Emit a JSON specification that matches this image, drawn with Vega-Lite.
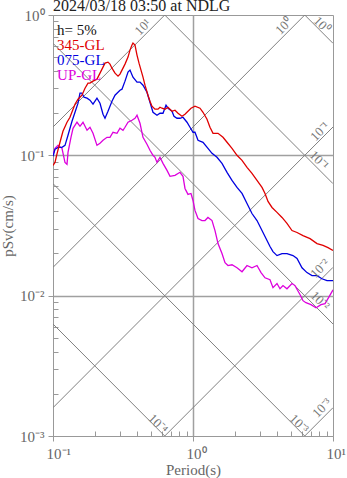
{
  "$schema": "https://vega.github.io/schema/vega-lite/v6.json",
  "width": 280,
  "height": 421,
  "autosize": {"type": "none"},
  "padding": {"left": 53, "top": 15, "right": 14, "bottom": 42},
  "background": "white",
  "title": {"text": "2024/03/18 03:50 at NDLG", "anchor": "start", "frame": "group", "baseline": "alphabetic", "font": "Liberation Serif", "fontSize": 16, "fontWeight": "normal", "color": "#222222", "offset": -19},
  "config": {
    "view": {"stroke": "#999999", "strokeWidth": 1},
    "axis": {"labelFont": "Liberation Serif", "titleFont": "Liberation Serif", "labelFontSize": 15, "titleFontSize": 15, "titleFontWeight": "normal", "labelColor": "#666666", "titleColor": "#666666", "domainColor": "#999999", "tickColor": "#999999", "gridColor": "#a0a0a0", "gridWidth": 1.5}
  },
  "datasets": {
    "diag": [
      {"id": "a1", "T": 0.1, "Sv": 0.15915}, {"id": "a1", "T": 0.62832, "Sv": 1},
      {"id": "a0", "T": 0.1, "Sv": 0.015915}, {"id": "a0", "T": 6.2832, "Sv": 1},
      {"id": "a-1", "T": 0.1, "Sv": 0.0015915}, {"id": "a-1", "T": 10, "Sv": 0.15915},
      {"id": "a-2", "T": 0.62832, "Sv": 0.001}, {"id": "a-2", "T": 10, "Sv": 0.015915},
      {"id": "a-3", "T": 6.2832, "Sv": 0.001}, {"id": "a-3", "T": 10, "Sv": 0.0015915},
      {"id": "d0", "T": 6.2832, "Sv": 1}, {"id": "d0", "T": 10, "Sv": 0.62832},
      {"id": "d-1", "T": 0.62832, "Sv": 1}, {"id": "d-1", "T": 10, "Sv": 0.062832},
      {"id": "d-2", "T": 0.1, "Sv": 0.62832}, {"id": "d-2", "T": 10, "Sv": 0.0062832},
      {"id": "d-3", "T": 0.1, "Sv": 0.062832}, {"id": "d-3", "T": 6.2832, "Sv": 0.001},
      {"id": "d-4", "T": 0.1, "Sv": 0.0062832}, {"id": "d-4", "T": 0.62832, "Sv": 0.001}
    ],
    "uplabels": [
      {"text": "10¹", "T": 0.439, "Sv": 0.82},
      {"text": "10⁰", "T": 4.47, "Sv": 0.834},
      {"text": "10⁻¹", "T": 8.07, "Sv": 0.148},
      {"text": "10⁻²", "T": 8.07, "Sv": 0.0156},
      {"text": "10⁻³", "T": 8.34, "Sv": 0.00158}
    ],
    "downlabels": [
      {"text": "10⁰", "T": 8.34, "Sv": 0.849},
      {"text": "10⁻¹", "T": 7.94, "Sv": 0.0921},
      {"text": "10⁻²", "T": 8.07, "Sv": 0.0092},
      {"text": "10⁻³", "T": 5.72, "Sv": 0.00122},
      {"text": "10⁻⁴", "T": 0.562, "Sv": 0.00122}
    ],
    "legend": [
      {"s": "h= 5%", "T": 0.107, "Sv": 0.72},
      {"s": "345-GL", "T": 0.107, "Sv": 0.562},
      {"s": "075-GL", "T": 0.107, "Sv": 0.439},
      {"s": "UP-GL", "T": 0.107, "Sv": 0.347}
    ],
    "curves": [
      {"s": "UP-GL", "T": 0.1, "Sv": 0.1}, {"s": "UP-GL", "T": 0.1033, "Sv": 0.1122}, {"s": "UP-GL", "T": 0.1086, "Sv": 0.1178}, {"s": "UP-GL", "T": 0.1159, "Sv": 0.1122}, {"s": "UP-GL", "T": 0.1218, "Sv": 0.0891}, {"s": "UP-GL", "T": 0.1259, "Sv": 0.0863}, {"s": "UP-GL", "T": 0.128, "Sv": 0.105}, {"s": "UP-GL", "T": 0.1344, "Sv": 0.1344}, {"s": "UP-GL", "T": 0.139, "Sv": 0.1559}, {"s": "UP-GL", "T": 0.1484, "Sv": 0.1721}, {"s": "UP-GL", "T": 0.1559, "Sv": 0.1611}, {"s": "UP-GL", "T": 0.1638, "Sv": 0.1721}, {"s": "UP-GL", "T": 0.175, "Sv": 0.1509}, {"s": "UP-GL", "T": 0.1837, "Sv": 0.1585}, {"s": "UP-GL", "T": 0.1931, "Sv": 0.1436}, {"s": "UP-GL", "T": 0.2061, "Sv": 0.1178}, {"s": "UP-GL", "T": 0.2166, "Sv": 0.1218}, {"s": "UP-GL", "T": 0.2276, "Sv": 0.128}, {"s": "UP-GL", "T": 0.2431, "Sv": 0.1344}, {"s": "UP-GL", "T": 0.2553, "Sv": 0.1344}, {"s": "UP-GL", "T": 0.2683, "Sv": 0.146}, {"s": "UP-GL", "T": 0.2865, "Sv": 0.1436}, {"s": "UP-GL", "T": 0.301, "Sv": 0.1559}, {"s": "UP-GL", "T": 0.3162, "Sv": 0.1509}, {"s": "UP-GL", "T": 0.3268, "Sv": 0.1585}, {"s": "UP-GL", "T": 0.3434, "Sv": 0.1721}, {"s": "UP-GL", "T": 0.3666, "Sv": 0.1778}, {"s": "UP-GL", "T": 0.3852, "Sv": 0.1837}, {"s": "UP-GL", "T": 0.3981, "Sv": 0.1931}, {"s": "UP-GL", "T": 0.4182, "Sv": 0.1693}, {"s": "UP-GL", "T": 0.4394, "Sv": 0.1344}, {"s": "UP-GL", "T": 0.4691, "Sv": 0.1199}, {"s": "UP-GL", "T": 0.4928, "Sv": 0.1086}, {"s": "UP-GL", "T": 0.5179, "Sv": 0.1}, {"s": "UP-GL", "T": 0.5352, "Sv": 0.0968}, {"s": "UP-GL", "T": 0.5531, "Sv": 0.0891}, {"s": "UP-GL", "T": 0.581, "Sv": 0.0968}, {"s": "UP-GL", "T": 0.6105, "Sv": 0.0877}, {"s": "UP-GL", "T": 0.6522, "Sv": 0.0781}, {"s": "UP-GL", "T": 0.6852, "Sv": 0.0708}, {"s": "UP-GL", "T": 0.7437, "Sv": 0.072}, {"s": "UP-GL", "T": 0.8072, "Sv": 0.0757}, {"s": "UP-GL", "T": 0.8482, "Sv": 0.0708}, {"s": "UP-GL", "T": 0.8766, "Sv": 0.0581}, {"s": "UP-GL", "T": 0.9209, "Sv": 0.0527}, {"s": "UP-GL", "T": 0.9676, "Sv": 0.0535}, {"s": "UP-GL", "T": 1.0, "Sv": 0.0477}, {"s": "UP-GL", "T": 1.033, "Sv": 0.0405}, {"s": "UP-GL", "T": 1.086, "Sv": 0.0355}, {"s": "UP-GL", "T": 1.159, "Sv": 0.0343}, {"s": "UP-GL", "T": 1.218, "Sv": 0.0343}, {"s": "UP-GL", "T": 1.279, "Sv": 0.0361}, {"s": "UP-GL", "T": 1.367, "Sv": 0.0343}, {"s": "UP-GL", "T": 1.436, "Sv": 0.0291}, {"s": "UP-GL", "T": 1.509, "Sv": 0.0235}, {"s": "UP-GL", "T": 1.611, "Sv": 0.01995}, {"s": "UP-GL", "T": 1.693, "Sv": 0.0172}, {"s": "UP-GL", "T": 1.778, "Sv": 0.0164}, {"s": "UP-GL", "T": 1.899, "Sv": 0.0166}, {"s": "UP-GL", "T": 2.062, "Sv": 0.0158}, {"s": "UP-GL", "T": 2.239, "Sv": 0.0148}, {"s": "UP-GL", "T": 2.431, "Sv": 0.0164}, {"s": "UP-GL", "T": 2.638, "Sv": 0.0158}, {"s": "UP-GL", "T": 2.865, "Sv": 0.0164}, {"s": "UP-GL", "T": 3.062, "Sv": 0.0146}, {"s": "UP-GL", "T": 3.268, "Sv": 0.0134}, {"s": "UP-GL", "T": 3.548, "Sv": 0.013}, {"s": "UP-GL", "T": 3.727, "Sv": 0.0114}, {"s": "UP-GL", "T": 3.981, "Sv": 0.0122}, {"s": "UP-GL", "T": 4.181, "Sv": 0.0112}, {"s": "UP-GL", "T": 4.394, "Sv": 0.0118}, {"s": "UP-GL", "T": 4.69, "Sv": 0.0112}, {"s": "UP-GL", "T": 5.094, "Sv": 0.0122}, {"s": "UP-GL", "T": 5.354, "Sv": 0.0118}, {"s": "UP-GL", "T": 5.809, "Sv": 0.0102}, {"s": "UP-GL", "T": 6.105, "Sv": 0.00921}, {"s": "UP-GL", "T": 6.41, "Sv": 0.00891}, {"s": "UP-GL", "T": 6.96, "Sv": 0.00863}, {"s": "UP-GL", "T": 7.568, "Sv": 0.00821}, {"s": "UP-GL", "T": 8.21, "Sv": 0.00863}, {"s": "UP-GL", "T": 8.77, "Sv": 0.00877}, {"s": "UP-GL", "T": 9.21, "Sv": 0.00952}, {"s": "UP-GL", "T": 10, "Sv": 0.011},

      {"s": "075-GL", "T": 0.1, "Sv": 0.0984}, {"s": "075-GL", "T": 0.1033, "Sv": 0.1104}, {"s": "075-GL", "T": 0.1086, "Sv": 0.114}, {"s": "075-GL", "T": 0.1159, "Sv": 0.114}, {"s": "075-GL", "T": 0.1218, "Sv": 0.1178}, {"s": "075-GL", "T": 0.128, "Sv": 0.139}, {"s": "075-GL", "T": 0.1367, "Sv": 0.1749}, {"s": "075-GL", "T": 0.1436, "Sv": 0.2028}, {"s": "075-GL", "T": 0.1509, "Sv": 0.2352}, {"s": "075-GL", "T": 0.1559, "Sv": 0.2773}, {"s": "075-GL", "T": 0.161, "Sv": 0.2773}, {"s": "075-GL", "T": 0.1665, "Sv": 0.2596}, {"s": "075-GL", "T": 0.175, "Sv": 0.2553}, {"s": "075-GL", "T": 0.1837, "Sv": 0.2471}, {"s": "075-GL", "T": 0.1931, "Sv": 0.2313}, {"s": "075-GL", "T": 0.2061, "Sv": 0.2553}, {"s": "075-GL", "T": 0.2166, "Sv": 0.2352}, {"s": "075-GL", "T": 0.2276, "Sv": 0.1963}, {"s": "075-GL", "T": 0.2352, "Sv": 0.1837}, {"s": "075-GL", "T": 0.2471, "Sv": 0.2061}, {"s": "075-GL", "T": 0.2638, "Sv": 0.2431}, {"s": "075-GL", "T": 0.2773, "Sv": 0.2683}, {"s": "075-GL", "T": 0.301, "Sv": 0.2913}, {"s": "075-GL", "T": 0.311, "Sv": 0.296}, {"s": "075-GL", "T": 0.3268, "Sv": 0.3378}, {"s": "075-GL", "T": 0.3434, "Sv": 0.3916}, {"s": "075-GL", "T": 0.3548, "Sv": 0.4048}, {"s": "075-GL", "T": 0.3727, "Sv": 0.3606}, {"s": "075-GL", "T": 0.3981, "Sv": 0.3322}, {"s": "075-GL", "T": 0.4182, "Sv": 0.3322}, {"s": "075-GL", "T": 0.4394, "Sv": 0.3162}, {"s": "075-GL", "T": 0.4691, "Sv": 0.2818}, {"s": "075-GL", "T": 0.4928, "Sv": 0.2391}, {"s": "075-GL", "T": 0.5179, "Sv": 0.2028}, {"s": "075-GL", "T": 0.5531, "Sv": 0.1931}, {"s": "075-GL", "T": 0.581, "Sv": 0.1995}, {"s": "075-GL", "T": 0.6105, "Sv": 0.1995}, {"s": "075-GL", "T": 0.6416, "Sv": 0.2276}, {"s": "075-GL", "T": 0.6631, "Sv": 0.2166}, {"s": "075-GL", "T": 0.7079, "Sv": 0.2061}, {"s": "075-GL", "T": 0.7315, "Sv": 0.1899}, {"s": "075-GL", "T": 0.7686, "Sv": 0.1837}, {"s": "075-GL", "T": 0.8072, "Sv": 0.1837}, {"s": "075-GL", "T": 0.8482, "Sv": 0.1868}, {"s": "075-GL", "T": 0.9058, "Sv": 0.1721}, {"s": "075-GL", "T": 0.9517, "Sv": 0.1585}, {"s": "075-GL", "T": 1.0, "Sv": 0.146}, {"s": "075-GL", "T": 1.033, "Sv": 0.146}, {"s": "075-GL", "T": 1.086, "Sv": 0.128}, {"s": "075-GL", "T": 1.179, "Sv": 0.1239}, {"s": "075-GL", "T": 1.279, "Sv": 0.1122}, {"s": "075-GL", "T": 1.367, "Sv": 0.1033}, {"s": "075-GL", "T": 1.484, "Sv": 0.0968}, {"s": "075-GL", "T": 1.611, "Sv": 0.0877}, {"s": "075-GL", "T": 1.75, "Sv": 0.0757}, {"s": "075-GL", "T": 1.899, "Sv": 0.0663}, {"s": "075-GL", "T": 2.062, "Sv": 0.0591}, {"s": "075-GL", "T": 2.239, "Sv": 0.0535}, {"s": "075-GL", "T": 2.431, "Sv": 0.0454}, {"s": "075-GL", "T": 2.638, "Sv": 0.0385}, {"s": "075-GL", "T": 2.865, "Sv": 0.0343}, {"s": "075-GL", "T": 3.111, "Sv": 0.0291}, {"s": "075-GL", "T": 3.378, "Sv": 0.0247}, {"s": "075-GL", "T": 3.548, "Sv": 0.0224}, {"s": "075-GL", "T": 3.727, "Sv": 0.0206}, {"s": "075-GL", "T": 3.981, "Sv": 0.0193}, {"s": "075-GL", "T": 4.323, "Sv": 0.01995}, {"s": "075-GL", "T": 4.69, "Sv": 0.01995}, {"s": "075-GL", "T": 5.179, "Sv": 0.0193}, {"s": "075-GL", "T": 5.534, "Sv": 0.0184}, {"s": "075-GL", "T": 6.006, "Sv": 0.0158}, {"s": "075-GL", "T": 6.518, "Sv": 0.0146}, {"s": "075-GL", "T": 7.079, "Sv": 0.0139}, {"s": "075-GL", "T": 7.69, "Sv": 0.0139}, {"s": "075-GL", "T": 8.34, "Sv": 0.0132}, {"s": "075-GL", "T": 9.06, "Sv": 0.0128}, {"s": "075-GL", "T": 10, "Sv": 0.0128},

      {"s": "345-GL", "T": 0.1, "Sv": 0.0848}, {"s": "345-GL", "T": 0.1033, "Sv": 0.0891}, {"s": "345-GL", "T": 0.107, "Sv": 0.1033}, {"s": "345-GL", "T": 0.1122, "Sv": 0.1239}, {"s": "345-GL", "T": 0.1178, "Sv": 0.1484}, {"s": "345-GL", "T": 0.1259, "Sv": 0.1721}, {"s": "345-GL", "T": 0.1322, "Sv": 0.1868}, {"s": "345-GL", "T": 0.139, "Sv": 0.2131}, {"s": "345-GL", "T": 0.1436, "Sv": 0.2313}, {"s": "345-GL", "T": 0.1509, "Sv": 0.2512}, {"s": "345-GL", "T": 0.161, "Sv": 0.2683}, {"s": "345-GL", "T": 0.1693, "Sv": 0.301}, {"s": "345-GL", "T": 0.1778, "Sv": 0.3268}, {"s": "345-GL", "T": 0.1837, "Sv": 0.3268}, {"s": "345-GL", "T": 0.1931, "Sv": 0.3378}, {"s": "345-GL", "T": 0.2061, "Sv": 0.349}, {"s": "345-GL", "T": 0.2166, "Sv": 0.3852}, {"s": "345-GL", "T": 0.2276, "Sv": 0.4252}, {"s": "345-GL", "T": 0.2352, "Sv": 0.4539}, {"s": "345-GL", "T": 0.2471, "Sv": 0.4615}, {"s": "345-GL", "T": 0.2553, "Sv": 0.4467}, {"s": "345-GL", "T": 0.2638, "Sv": 0.418}, {"s": "345-GL", "T": 0.2773, "Sv": 0.3852}, {"s": "345-GL", "T": 0.2913, "Sv": 0.3666}, {"s": "345-GL", "T": 0.301, "Sv": 0.3793}, {"s": "345-GL", "T": 0.311, "Sv": 0.4048}, {"s": "345-GL", "T": 0.3268, "Sv": 0.4467}, {"s": "345-GL", "T": 0.3434, "Sv": 0.5012}, {"s": "345-GL", "T": 0.3548, "Sv": 0.5623}, {"s": "345-GL", "T": 0.3666, "Sv": 0.6105}, {"s": "345-GL", "T": 0.3727, "Sv": 0.631}, {"s": "345-GL", "T": 0.3852, "Sv": 0.6105}, {"s": "345-GL", "T": 0.3981, "Sv": 0.5179}, {"s": "345-GL", "T": 0.4115, "Sv": 0.4539}, {"s": "345-GL", "T": 0.4252, "Sv": 0.4048}, {"s": "345-GL", "T": 0.4394, "Sv": 0.3606}, {"s": "345-GL", "T": 0.454, "Sv": 0.3162}, {"s": "345-GL", "T": 0.4769, "Sv": 0.2683}, {"s": "345-GL", "T": 0.4928, "Sv": 0.2431}, {"s": "345-GL", "T": 0.5093, "Sv": 0.2238}, {"s": "345-GL", "T": 0.5352, "Sv": 0.2131}, {"s": "345-GL", "T": 0.5623, "Sv": 0.2131}, {"s": "345-GL", "T": 0.581, "Sv": 0.2202}, {"s": "345-GL", "T": 0.6004, "Sv": 0.2166}, {"s": "345-GL", "T": 0.631, "Sv": 0.2131}, {"s": "345-GL", "T": 0.6631, "Sv": 0.2202}, {"s": "345-GL", "T": 0.7079, "Sv": 0.2061}, {"s": "345-GL", "T": 0.7437, "Sv": 0.2096}, {"s": "345-GL", "T": 0.7814, "Sv": 0.1995}, {"s": "345-GL", "T": 0.8342, "Sv": 0.1899}, {"s": "345-GL", "T": 0.8766, "Sv": 0.1963}, {"s": "345-GL", "T": 0.9209, "Sv": 0.2061}, {"s": "345-GL", "T": 0.9676, "Sv": 0.2166}, {"s": "345-GL", "T": 1.033, "Sv": 0.2238}, {"s": "345-GL", "T": 1.122, "Sv": 0.2166}, {"s": "345-GL", "T": 1.179, "Sv": 0.2028}, {"s": "345-GL", "T": 1.259, "Sv": 0.1807}, {"s": "345-GL", "T": 1.322, "Sv": 0.1585}, {"s": "345-GL", "T": 1.39, "Sv": 0.1436}, {"s": "345-GL", "T": 1.509, "Sv": 0.1436}, {"s": "345-GL", "T": 1.638, "Sv": 0.1344}, {"s": "345-GL", "T": 1.75, "Sv": 0.1239}, {"s": "345-GL", "T": 1.899, "Sv": 0.1122}, {"s": "345-GL", "T": 2.062, "Sv": 0.1}, {"s": "345-GL", "T": 2.239, "Sv": 0.0921}, {"s": "345-GL", "T": 2.431, "Sv": 0.0821}, {"s": "345-GL", "T": 2.638, "Sv": 0.0744}, {"s": "345-GL", "T": 2.865, "Sv": 0.0663}, {"s": "345-GL", "T": 3.111, "Sv": 0.0591}, {"s": "345-GL", "T": 3.268, "Sv": 0.0535}, {"s": "345-GL", "T": 3.434, "Sv": 0.0469}, {"s": "345-GL", "T": 3.668, "Sv": 0.0425}, {"s": "345-GL", "T": 3.981, "Sv": 0.0392}, {"s": "345-GL", "T": 4.323, "Sv": 0.0361}, {"s": "345-GL", "T": 4.69, "Sv": 0.0327}, {"s": "345-GL", "T": 5.094, "Sv": 0.0291}, {"s": "345-GL", "T": 5.534, "Sv": 0.0282}, {"s": "345-GL", "T": 6.105, "Sv": 0.0268}, {"s": "345-GL", "T": 6.855, "Sv": 0.0255}, {"s": "345-GL", "T": 7.69, "Sv": 0.0235}, {"s": "345-GL", "T": 8.49, "Sv": 0.0228}, {"s": "345-GL", "T": 9.21, "Sv": 0.022}, {"s": "345-GL", "T": 10, "Sv": 0.021}
    ]
  },
  "layer": [
    {
      "data": {"name": "diag"},
      "mark": {"type": "line", "color": "#808080", "strokeWidth": 1, "clip": true},
      "encoding": {
        "x": {"field": "T", "type": "quantitative", "title": "Period(s)",
          "scale": {"type": "log", "domain": [0.1, 10], "nice": false},
          "axis": {"values": [0.1, 0.2, 0.3, 0.4, 0.5, 0.6, 0.7, 0.8, 0.9, 1, 2, 3, 4, 5, 6, 7, 8, 9, 10],
            "labelExpr": "datum.value == 0.1 ? '10⁻¹' : datum.value == 1 ? '10⁰' : datum.value == 10 ? '10¹' : ''",
            "tickSize": {"condition": {"test": "datum.value == 0.1 || datum.value == 1 || datum.value == 10", "value": 5}, "value": -5},
            "gridOpacity": {"condition": {"test": "datum.value == 1", "value": 1}, "value": 0},
            "labelAlign": "left", "labelOffset": -7,
            "labelPadding": 5, "titlePadding": 1, "labelFlush": false}},
        "y": {"field": "Sv", "type": "quantitative", "title": "pSv(cm/s)",
          "scale": {"type": "log", "domain": [0.001, 1], "nice": false},
          "axis": {"values": [0.001, 0.002, 0.003, 0.004, 0.005, 0.006, 0.007, 0.008, 0.009, 0.01, 0.02, 0.03, 0.04, 0.05, 0.06, 0.07, 0.08, 0.09, 0.1, 0.2, 0.3, 0.4, 0.5, 0.6, 0.7, 0.8, 0.9, 1],
            "labelExpr": "datum.value == 0.001 ? '10⁻³' : datum.value == 0.01 ? '10⁻²' : datum.value == 0.1 ? '10⁻¹' : datum.value == 1 ? '10⁰' : ''",
            "tickSize": {"condition": {"test": "datum.value == 0.001 || datum.value == 0.01 || datum.value == 0.1 || datum.value == 1", "value": 5}, "value": -5},
            "gridOpacity": {"condition": {"test": "datum.value == 0.01 || datum.value == 0.1", "value": 1}, "value": 0},
            "labelPadding": 4, "titlePadding": 4, "labelFlush": false}},
        "detail": {"field": "id"}
      }
    },
    {
      "data": {"name": "curves"},
      "mark": {"type": "line", "strokeWidth": 1.3, "clip": true},
      "encoding": {
        "x": {"field": "T", "type": "quantitative"},
        "y": {"field": "Sv", "type": "quantitative"},
        "color": {"field": "s", "type": "nominal", "legend": null,
          "scale": {"domain": ["345-GL", "075-GL", "UP-GL", "h= 5%"], "range": ["#e00000", "#0000e0", "#dd00dd", "#111111"]}}
      }
    },
    {
      "data": {"name": "uplabels"},
      "mark": {"type": "text", "angle": -45, "font": "Liberation Serif", "fontSize": 13, "color": "#777777", "align": "center", "baseline": "middle"},
      "encoding": {"x": {"field": "T", "type": "quantitative"}, "y": {"field": "Sv", "type": "quantitative"}, "text": {"field": "text"}}
    },
    {
      "data": {"name": "downlabels"},
      "mark": {"type": "text", "angle": 45, "font": "Liberation Serif", "fontSize": 13, "color": "#777777", "align": "center", "baseline": "middle"},
      "encoding": {"x": {"field": "T", "type": "quantitative"}, "y": {"field": "Sv", "type": "quantitative"}, "text": {"field": "text"}}
    },
    {
      "data": {"name": "legend"},
      "mark": {"type": "text", "font": "Liberation Serif", "fontSize": 15, "align": "left", "baseline": "alphabetic"},
      "encoding": {"x": {"field": "T", "type": "quantitative"}, "y": {"field": "Sv", "type": "quantitative"}, "text": {"field": "s"},
        "color": {"field": "s", "type": "nominal", "legend": null}}
    }
  ]
}
